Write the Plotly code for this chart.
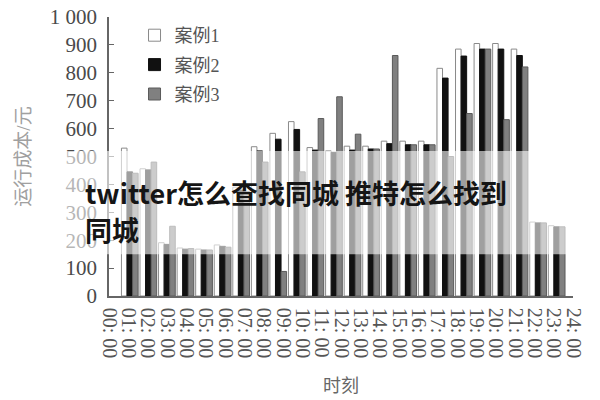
import plotly.graph_objects as go

hour_labels = ["00: 00", "01: 00", "02: 00", "03: 00", "04: 00", "05: 00", "06: 00", "07: 00",
               "08: 00", "09: 00", "10: 00", "11: 00", "12: 00", "13: 00", "14: 00", "15: 00",
               "16: 00", "17: 00", "18: 00", "19: 00", "20: 00", "21: 00", "22: 00", "23: 00", "24: 00"]

# one group of bars per hour slot (slots 1..24)
case1 = [530, 456, 191, 172, 168, 183, 390, 535, 583, 625, 532, 520, 537, 537,
         555, 555, 555, 816, 885, 905, 905, 885, 265, 252]
case2 = [445, 452, 185, 168, 165, 178, 380, 520, 562, 597, 523, 515, 523, 527,
         546, 542, 542, 781, 860, 885, 885, 862, 262, 248]
case3 = [440, 480, 250, 170, 165, 175, 375, 480, 88, 445, 636, 714, 580, 527,
         862, 542, 542, 500, 654, 885, 632, 821, 262, 248]

y_ticks = [0, 100, 200, 300, 400, 500, 600, 700, 800, 900, 1000]
y_tick_text = ["0", "100", "200", "300", "400", "500", "600", "700", "800", "900", "1 000"]

series = [("案例1", case1, "#ffffff", "#8a8a8a"),
          ("案例2", case2, "#111111", "#111111"),
          ("案例3", case3, "#808080", "#5a5a5a")]

slot_pos = list(range(1, len(case1) + 1))
x0 = -0.12
tick_pos = [x0 + i * 25 / 24 for i in range(len(hour_labels))]

fig = go.Figure()
for name, vals, fill, edge in series:
    fig.add_trace(go.Bar(
        x=slot_pos, y=vals, name=name, legendgroup=name,
        marker=dict(color=fill, line=dict(color=edge, width=1)),
    ))

serif = "Liberation Serif, Noto Sans CJK SC, serif"

fig.update_layout(
    width=592, height=392,
    margin=dict(l=101, r=27, t=9, b=104),
    paper_bgcolor="white", plot_bgcolor="white",
    barmode="group", bargap=0.1, bargroupgap=0,
    showlegend=True,
    legend=dict(x=0.055, y=1.0, xanchor="left", yanchor="top",
                font=dict(family=serif, size=18, color="#555555"),
                bgcolor="rgba(0,0,0,0)", tracegroupgap=3),
    xaxis=dict(range=[x0, x0 + 25], tickmode="array", tickvals=tick_pos,
               ticktext=hour_labels, tickangle=90, showgrid=False, zeroline=False,
               showline=True, linecolor="#666666", linewidth=1.5, ticks="",
               automargin=False, ticklabelstandoff=6,
               tickfont=dict(family=serif, size=20, color="#555555"),
               title=dict(text="时刻", standoff=22,
                          font=dict(family=serif, size=18, color="#666666"))),
    yaxis=dict(range=[0, 1000], tickmode="array", tickvals=y_ticks, ticktext=y_tick_text,
               showgrid=False, zeroline=False, showline=True, linecolor="#666666",
               linewidth=1.5, ticks="inside", ticklen=5, tickcolor="#666666",
               automargin=False, ticklabelstandoff=6, ticklabeloverflow="allow",
               tickfont=dict(family=serif, size=21, color="#4a4a4a"),
               title=dict(text="运行成本/元", standoff=14,
                          font=dict(family=serif, size=19, color="#a0a0a0"))),
)

# semi-transparent white band across the picture
fig.add_shape(type="rect", xref="paper", yref="paper",
              x0=-0.4, x1=1.2, y0=0.1495, y1=0.5196,
              fillcolor="white", opacity=0.6, line=dict(width=0), layer="above")

fig.add_annotation(text="<b>twitter怎么查找同城 推特怎么找到</b>", xref="paper", yref="paper",
                   x=-0.056, y=(294 - 190) / 281, xanchor="left", yanchor="middle",
                   showarrow=False, font=dict(family="Noto Sans CJK SC", size=27, color="#151515"))
fig.add_annotation(text="<b>同城</b>", xref="paper", yref="paper",
                   x=-0.056, y=(294 - 227) / 281, xanchor="left", yanchor="middle",
                   showarrow=False, font=dict(family="Noto Sans CJK SC", size=27, color="#151515"))

fig.write_html("out.html")
